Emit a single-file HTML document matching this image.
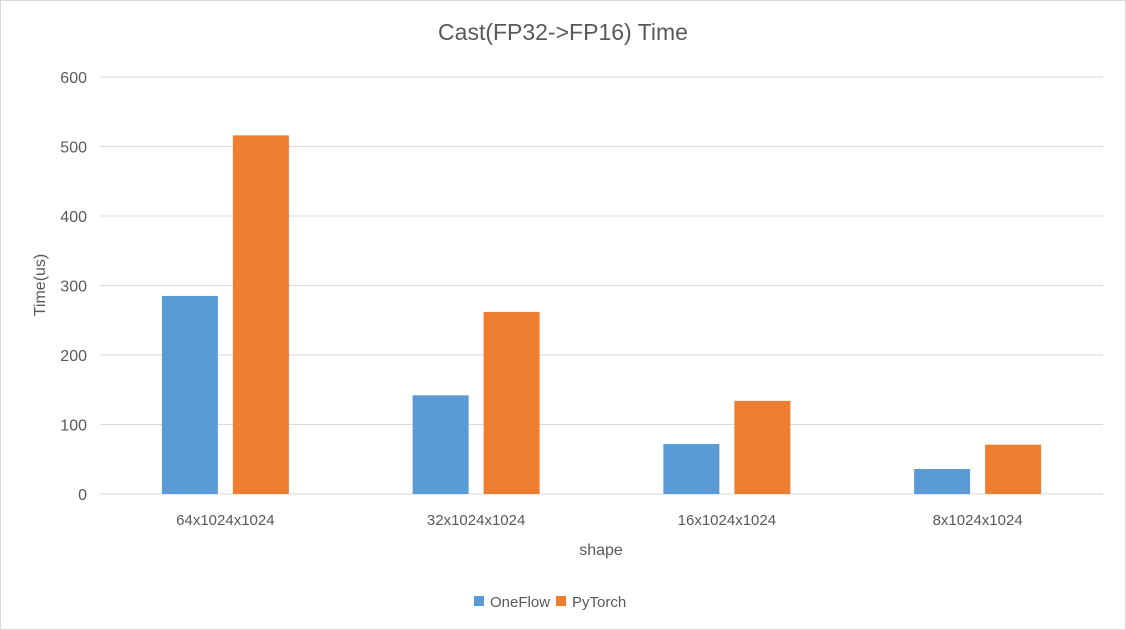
<!DOCTYPE html>
<html><head><meta charset="utf-8"><style>
body{margin:0;background:#fff;}
svg{display:block;font-family:"Liberation Sans",sans-serif;}
</style></head><body>
<svg id="chart" width="1126" height="630">
<rect x="0.5" y="0.5" width="1125" height="629" fill="#fff" stroke="#d9d9d9"/>
<text x="563" y="40" text-anchor="middle" font-size="23" fill="#595959">Cast(FP32-&gt;FP16) Time</text>
<g id="grid"></g>
<g id="bars"></g>
<text x="0" y="0" transform="translate(45,285) rotate(-90)" text-anchor="middle" font-size="16" fill="#595959">Time(us)</text>
<text x="601" y="555" text-anchor="middle" font-size="16" fill="#595959">shape</text>
<g>
<rect x="474" y="596" width="10" height="10" fill="#5b9bd5"/>
<text x="490" y="607" font-size="15" fill="#595959">OneFlow</text>
<rect x="556" y="596" width="10" height="10" fill="#ed7d31"/>
<text x="572" y="607" font-size="15" fill="#595959">PyTorch</text>
</g>
</svg>
<script>
const categories=["64x1024x1024","32x1024x1024","16x1024x1024","8x1024x1024"];
const oneflow=[285,142,72,36];
const pytorch=[516,262,134,71];
const yTicks=[0,100,200,300,400,500,600];
const NS="http://www.w3.org/2000/svg";
const x0=100,x1=1103,yBase=494,yTop=77,yMax=600;
const y=v=>yBase-(yBase-yTop)*v/yMax;
const band=(x1-x0)/categories.length;
const cx=i=>x0+band*(i+0.5);
function el(t,a,p){const e=document.createElementNS(NS,t);for(const k in a)e.setAttribute(k,a[k]);p.appendChild(e);return e;}
const grid=document.getElementById('grid'),bars=document.getElementById('bars');
yTicks.forEach(v=>{
 const l=el('line',{x1:x0,x2:x1,y1:y(v),y2:y(v),stroke:'#d9d9d9','stroke-width':1},grid);
 
 
 const t=el('text',{x:87,y:y(v)+6,'text-anchor':'end','font-size':16,fill:'#595959'},grid);
 t.textContent=v;
 
 
});
const bw=56,gap=15;
categories.forEach((c,i)=>{
 const b1=el('rect',{x:cx(i)-gap/2-bw,y:y(oneflow[i]),width:bw,height:yBase-y(oneflow[i]),fill:'#5b9bd5'},bars);
 
 
 const b2=el('rect',{x:cx(i)+gap/2,y:y(pytorch[i]),width:bw,height:yBase-y(pytorch[i]),fill:'#ed7d31'},bars);
 
 
 const t=el('text',{x:cx(i),y:525,'text-anchor':'middle','font-size':15,fill:'#595959'},bars);
 t.textContent=c;
 
 
});
</script>
</body></html>
